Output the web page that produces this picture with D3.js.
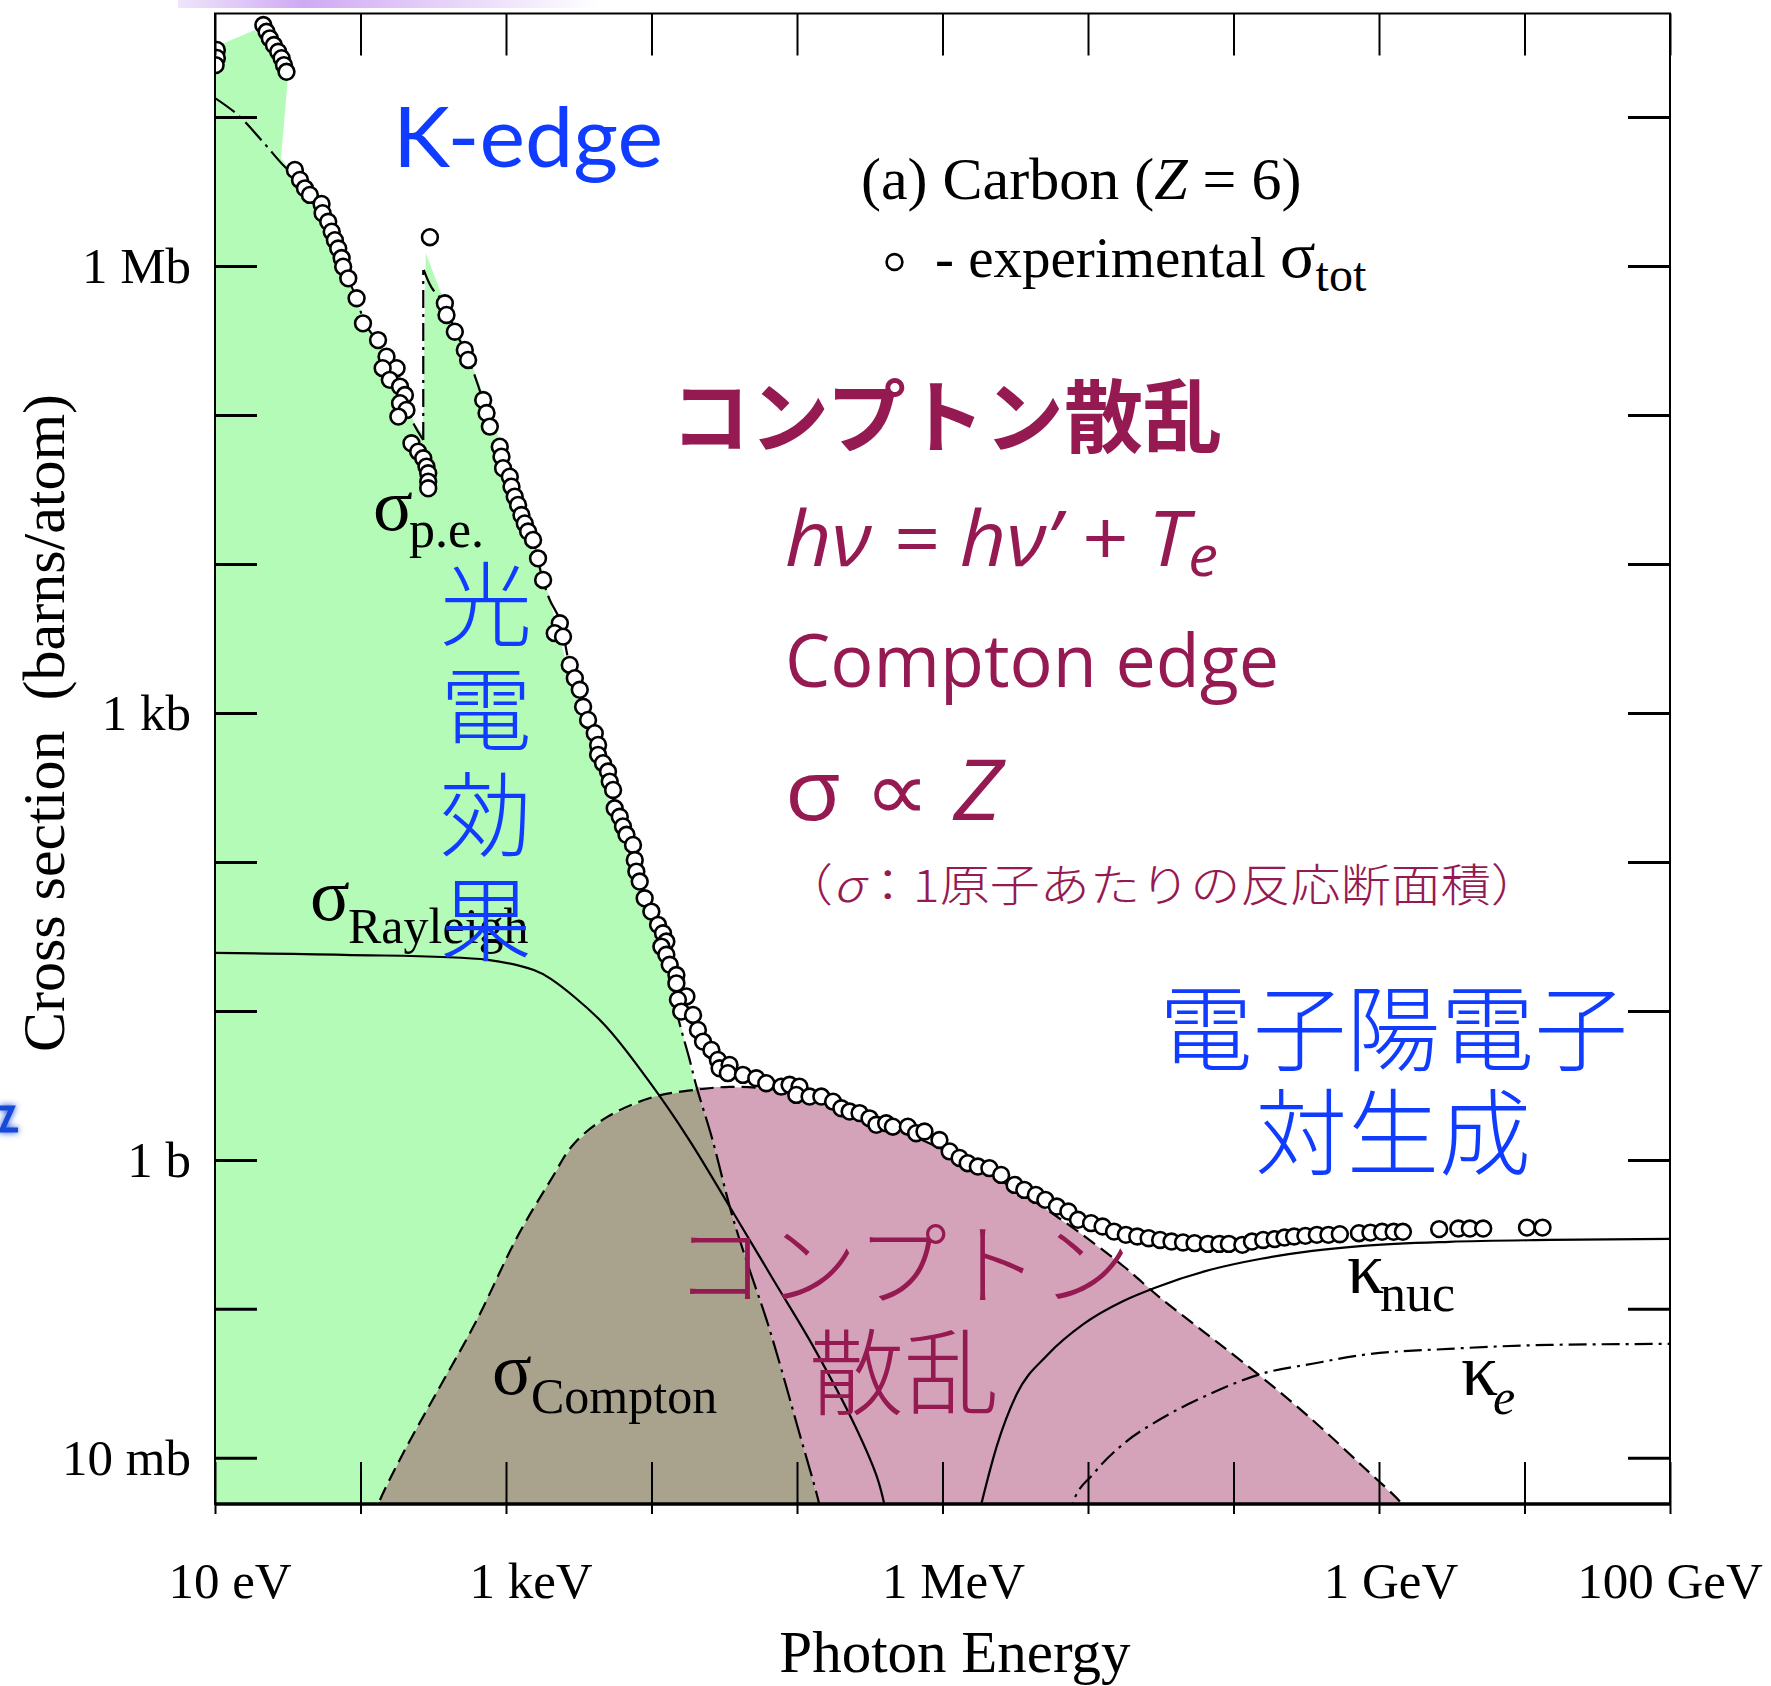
<!DOCTYPE html>
<html><head><meta charset="utf-8">
<script src="https://cdn.jsdelivr.net/npm/d3@7"></script>
<style>body{margin:0;background:#fff}svg{display:block}</style>
</head><body>
<svg id="c" width="1771" height="1686"></svg>
<script>
// ---------- data (energy in eV, cross section in barns/atom) ----------
const totalXS = [
[10.3,2.82e7],[10.3,2.49e7],[10.1,2.23e7],
[21.5,4.14e7],[22.6,3.73e7],[23.8,3.37e7],[25.4,3.04e7],[27.2,2.74e7],[28.7,2.48e7],[29.8,2.23e7],[31.0,2.01e7],
[35.4,4.41e6],[38.4,3.78e6],[41.5,3.32e6],[44.9,3.0e6],[54.0,2.61e6],[54.9,2.26e6],[60.0,1.98e6],[63.4,1.70e6],[66.7,1.49e6],[70.3,1.31e6],[74.2,1.13e6],[76.0,9.89e5],[82.4,8.26e5],[94.0,6.07e5],[104,4.12e5],[132,3.18e5],[151,2.46e5],[177,2.06e5],[142,2.06e5],[159,1.72e5],[187,1.55e5],[202,1.36e5],[187,1.20e5],[207,1.08e5],[182,9.75e4],[224,6.46e4],[249,5.67e4],[270,5.12e4],[284,4.50e4],[292,4.06e4],[292,3.57e4],[292,3.22e4],
[300,1.56e6],
[380,5.62e5],[390,4.69e5],[445,3.62e5],[521,2.73e5],[549,2.34e5],[697,1.26e5],[735,1.03e5],[774,8.35e4],[906,6.12e4],[931,5.25e4],[955,4.39e4],[1062,3.85e4],[1091,3.30e4],[1148,2.83e4],[1211,2.49e4],[1277,2.13e4],[1346,1.87e4],[1419,1.65e4],[1535,1.45e4],[1660,1.09e4],[1799,7.81e3],[2344,4.0e3],[2163,3.43e3],[2466,3.25e3],[2742,2.10e3],[2972,1.71e3],[3214,1.43e3],[3388,1.10e3],[3664,898],[4074,731],[4295,610],[4295,523],[4645,460],[5024,404],[5164,346],[5445,304],[5585,229],[6053,201],[6368,173],[6730,152],[7464,130],[7674,103],[7870,86.1],[8298,73.8],[8974,57.0],[9977,46.4],
[1.109e4,37.8],[1.20e4,33.2],[1.265e4,29.2],[1.169e4,27.0],[1.265e4,23.8],[1.334e4,20.4],[1.483e4,17.4],[1.483e4,15.3],[1.738e4,12.5],[1.52e4,11.9],[1.60e4,9.89],[1.93e4,9.40],[2.085e4,7.45],[2.26e4,6.22],[2.58e4,5.47],[2.86e4,4.69],[2.94e4,4.12],[3.44e4,4.34],[3.35e4,3.82],[4.25e4,3.72],[5.25e4,3.53],[6.15e4,3.27],[7.80e4,3.10],[8.89e4,3.19],[1.04e5,3.10],[9.89e4,2.73],[1.22e5,2.66],[1.47e5,2.66],[1.77e5,2.46],[2.02e5,2.22],[2.30e5,2.11],[2.69e5,2.06],[3.15e5,1.90],[3.51e5,1.72],[4.10e5,1.76],[4.56e5,1.67],[5.78e5,1.67],[6.59e5,1.51],[7.52e5,1.55],[9.53e5,1.36],[1.12e6,1.14],[1.31e6,1.03],[1.49e6,0.950],[1.75e6,0.902],[2.10e6,0.880],[2.53e6,0.793],
[3.13e6,0.679],[3.65e6,0.629],[4.38e6,0.582],[5.09e6,0.539],[6.11e6,0.486],[7.33e6,0.450],[8.53e6,0.396],[1.05e7,0.376],[1.26e7,0.357],[1.51e7,0.330],[1.82e7,0.314],[2.18e7,0.306],[2.61e7,0.298],[3.13e7,0.290],[3.75e7,0.283],[4.50e7,0.279],[5.40e7,0.276],[6.67e7,0.273],[8.00e7,0.273],[9.29e7,0.273],[1.15e8,0.269],[1.34e8,0.283],[1.60e8,0.290],[1.92e8,0.294],[2.24e8,0.301],[2.61e8,0.306],[3.12e8,0.309],[3.74e8,0.314],[4.49e8,0.314],[5.38e8,0.317],[7.28e8,0.322],[8.73e8,0.325],[1.05e9,0.329],[1.26e9,0.329],[1.46e9,0.329],[2.59e9,0.343],[3.51e9,0.346],[4.21e9,0.346],[5.20e9,0.346],[1.04e10,0.351],[1.33e10,0.351]
];
const peBelowK = [[10,1.34e7],[14.4,1.03e7],[21.4,6.79e6],[30.3,4.61e6],[38.4,3.78e6],[52.6,2.56e6],[66.7,1.49e6],[75.7,9.84e5],[94.4,6.01e5],[107,4.14e5],[136,2.95e5],[175,2.0e5],[202,1.32e5],[225,9.25e4],[270,6.8e4]];
const peKEdge = [[270,6.8e4],[270,9.4e5]];
const peAboveK = [[272,9.4e5],[309,7.12e5],[386,5.47e5],[445,3.66e5],[521,2.73e5],[693,1.26e5],[774,8.30e4],[906,6.10e4],[1062,3.84e4],[1205,2.49e4],[1528,1.45e4],[1791,7.81e3],[2000,5.73e3],[2344,4.21e3],[2742,2.10e3],[3214,1.43e3],[3648,898],[4266,565],[5000,402],[5585,241],[6653,152],[7798,91.2],[8974,57.3],[1.10e4,37.8],[1.27e4,23.8],[1.40e4,14.9],[1.51e4,9.40],[1.83e4,4.69],[2.04e4,3.09],[2.59e4,1.43],[3.61e4,0.414],[4.72e4,0.183],[6.18e4,0.0844],[7.83e4,0.0390],[1.01e5,0.0161],[1.42e5,0.00491],[1.48e5,0.00384]];
const rayleigh = [[10,24.5],[76.9,23.8],[750,22.0],[1552,18.8],[2032,16.4],[4624,8.30],[9572,3.39],[1.80e4,1.38],[3.72e4,0.428],[7.01e4,0.152],[1.32e5,0.0539],[2.49e5,0.0166],[3.58e5,0.00723],[4.19e5,0.00384]];
const compton = [[124,0.00384],[132,0.00484],[192,0.0103],[330,0.0269],[621,0.0818],[1186,0.300],[2032,0.734],[2924,1.28],[5000,1.95],[1.04e4,2.65],[1.98e4,2.95],[3.44e4,3.09],[6.48e4,3.00],[1.22e5,2.69],[2.30e5,2.17],[5.07e5,1.59],[1.12e6,1.11],[2.46e6,0.734],[4.63e6,0.499],[8.59e6,0.329],[1.78e7,0.191],[3.09e7,0.120],[6.93e7,0.0649],[1.55e8,0.0350],[3.48e8,0.0180],[7.78e8,0.00871],[1.44e9,0.00491],[1.61e9,0.00414]];
const kappaNuc = [[1.74e6,0.00384],[1.85e6,0.00491],[2.35e6,0.0118],[3.22e6,0.0265],[5.26e6,0.0490],[9.29e6,0.0790],[1.75e7,0.113],[2.86e7,0.138],[6.93e7,0.183],[1.55e8,0.217],[3.48e8,0.245],[7.78e8,0.265],[3.03e9,0.282],[1.48e10,0.290],[1e11,0.295]];
const kappaE = [[7.23e6,0.00384],[7.82e6,0.00491],[1.09e7,0.00782],[1.75e7,0.0124],[3.09e7,0.0180],[6.93e7,0.0269],[1.55e8,0.0366],[3.48e8,0.0428],[7.78e8,0.0491],[3.03e9,0.0539],[1.48e10,0.0573],[1e11,0.0582]];
const photoRegionTop = [[10,2.95e7],[18.8,3.84e7],[31.7,1.83e7],[28.4,5.31e6],[38.4,3.61e6],[52.6,2.49e6],[64.6,1.49e6],[78.2,8.71e5],[95.9,5.47e5],[116,3.72e5],[147,2.73e5],[181,1.85e5],[205,1.26e5],[237,8.57e4],[268,7.57e4],[281,1.22e6],[351,6.90e5],[482,3.44e5],[661,1.59e5],[906,6.79e4],[1245,2.49e4],[1706,1.06e4],[2000,5.73e3],[2455,2.65e3],[3758,659],[6053,157],[9727,40.8],[1.23e4,20.4],[1.56e4,8.71],[1.98e4,3.18]];
const xTickValues = [10,1e2,1e3,1e4,1e5,1e6,1e7,1e8,1e9,1e10,1e11];
const xLabelValues = [10,1e3,1e6,1e9,1e11];
const xLabelTexts = ["10 eV","1 keV","1 MeV","1 GeV","100 GeV"];
const yTickValues = [1e-2,1e-1,1,10,1e2,1e3,1e4,1e5,1e6,1e7];
const yLabelValues = [1e6,1e3,1,1e-2];
const yLabelTexts = ["1 Mb","1 kb","1 b","10 mb"];
const peCrossover = 2.04e4;

// ---------- layout ----------
const P = {left:215, right:1670, top:13.5, bottom:1504};
const xLabelShift = [15,25,11,12,0];
const serif = "'Liberation Serif','Times New Roman',serif";
const cjk = "'Noto Sans CJK JP','Noto Sans CJK SC',sans-serif";
const sans = "'Open Sans','Lato','DejaVu Sans',sans-serif";
const maroon = "#961a52", blue = "#0f3cff";

const svg = d3.select("#c");
const x = d3.scaleLog().domain([10,1e11]).range([P.left,P.right]);
const y = d3.scaleLog().domain([0.0049,4.95e7]).range([P.bottom,P.top]);

const defs = svg.append("defs");
defs.append("clipPath").attr("id","plot").append("rect")
  .attr("x",P.left).attr("y",P.top).attr("width",P.right-P.left).attr("height",P.bottom-P.top);
const grad = defs.append("linearGradient").attr("id","bar").attr("x1","0").attr("x2","1");
grad.append("stop").attr("offset","0").attr("stop-color","#efe5fb");
grad.append("stop").attr("offset","0.3").attr("stop-color","#cfa9f4");
grad.append("stop").attr("offset","1").attr("stop-color","#ffffff");
const glow = defs.append("filter").attr("id","glow").attr("x","-1").attr("y","-1").attr("width","3").attr("height","3");
glow.append("feGaussianBlur").attr("in","SourceGraphic").attr("stdDeviation","3").attr("result","b");
const fm = glow.append("feMerge"); fm.append("feMergeNode").attr("in","b"); fm.append("feMergeNode").attr("in","SourceGraphic");

// slide artifacts
svg.append("rect").attr("x",178).attr("y",0).attr("width",420).attr("height",8).attr("fill","url(#bar)");
svg.append("path").attr("d","M0,1108 L12,1108 L2,1130 L18,1130").attr("fill","none")
  .attr("stroke","#1848d8").attr("stroke-width",5).attr("filter","url(#glow)");

const g = svg.append("g").attr("clip-path","url(#plot)");
const poly = d3.line().x(d=>x(d[0])).y(d=>y(d[1]));
const smooth = d3.line().x(d=>x(d[0])).y(d=>y(d[1])).curve(d3.curveCatmullRom.alpha(0.5));
const mono = d3.line().x(d=>x(d[0])).y(d=>y(d[1])).curve(d3.curveMonotoneX);

// fills
const peTail = peAboveK.filter(d=>d[0]>=peCrossover);
const greenPoly = photoRegionTop.concat(peTail.filter(d=>d[0]>peCrossover)).concat([[10,0.00384]]);
const brownPoly = compton.filter(d=>d[0]<peCrossover).concat(peTail);
const pinkPoly = [peTail[0]].concat(compton.filter(d=>d[0]>peCrossover)).concat(peTail.slice(1).reverse());
g.append("path").attr("d",poly(greenPoly)+"Z").attr("fill","#b5fbb8");
g.append("path").attr("d",poly(brownPoly)+"Z").attr("fill","#a9a28d");
g.append("path").attr("d",poly(pinkPoly)+"Z").attr("fill","#d4a3b9");

// curves
const curveStyle = (p,dash)=>p.attr("fill","none").attr("stroke","#000").attr("stroke-width",2.2).attr("stroke-dasharray",dash);
curveStyle(g.append("path").attr("d",smooth(rayleigh)),null);
curveStyle(g.append("path").attr("d",smooth(compton)),"14,7");
curveStyle(g.append("path").attr("d",smooth(peBelowK)),"24,6,3,6");
curveStyle(g.append("path").attr("d",poly(peKEdge)),"18,6,3,6");
curveStyle(g.append("path").attr("d",smooth(peAboveK)),"24,6,3,6");
curveStyle(g.append("path").attr("d",mono(kappaNuc)),null);
curveStyle(g.append("path").attr("d",mono(kappaE)),"18,6,3,6");

// experimental points
g.selectAll("circle.tot").data(totalXS).join("circle").attr("class","tot")
  .attr("cx",d=>x(d[0])).attr("cy",d=>y(d[1])).attr("r",7.9)
  .attr("fill","#fff").attr("stroke","#000").attr("stroke-width",2.6);

// axes
const ax = svg.append("g");
const styleAxis = (sel,w)=>{ sel.select(".domain").remove(); sel.selectAll("line").attr("stroke","#000").attr("stroke-width",w); sel.selectAll("text").remove(); };
ax.append("g").attr("transform",`translate(${P.left},0)`).call(d3.axisLeft(y).tickValues(yTickValues).tickSize(-42)).call(s=>styleAxis(s,3));
ax.append("g").attr("transform",`translate(${P.right},0)`).call(d3.axisRight(y).tickValues(yTickValues).tickSize(-42)).call(s=>styleAxis(s,3));
ax.append("g").attr("transform",`translate(0,${P.top})`).call(d3.axisTop(x).tickValues(xTickValues).tickSize(-42)).call(s=>styleAxis(s,2));
ax.append("g").attr("transform",`translate(0,${P.bottom})`).call(d3.axisBottom(x).tickValues(xTickValues).tickSize(-42)).call(s=>styleAxis(s,2));
ax.append("g").attr("transform",`translate(0,${P.bottom})`).call(d3.axisBottom(x).tickValues(xTickValues).tickSize(10)).call(s=>styleAxis(s,2));
ax.append("rect").attr("x",P.left).attr("y",P.top).attr("width",P.right-P.left).attr("height",P.bottom-P.top)
  .attr("fill","none").attr("stroke","#000").attr("stroke-width",2);
ax.append("line").attr("x1",P.left).attr("x2",P.right).attr("y1",P.bottom).attr("y2",P.bottom).attr("stroke","#000").attr("stroke-width",3.5);

// tick labels
svg.append("g").selectAll("text").data(yLabelValues).join("text")
  .attr("x",191).attr("y",d=>y(d)+17).attr("text-anchor","end")
  .attr("font-family",serif).attr("font-size",51).text((d,i)=>yLabelTexts[i]);
svg.append("g").selectAll("text").data(xLabelValues).join("text")
  .attr("x",(d,i)=>x(d)+xLabelShift[i]).attr("y",1598).attr("text-anchor","middle")
  .attr("font-family",serif).attr("font-size",51).text((d,i)=>xLabelTexts[i]);
svg.append("text").attr("x",955).attr("y",1672).attr("text-anchor","middle")
  .attr("font-family",serif).attr("font-size",59).text("Photon Energy");
svg.append("text").attr("transform","translate(64,723) rotate(-90)").attr("text-anchor","middle")
  .attr("font-family",serif).attr("font-size",60).attr("xml:space","preserve").text("Cross section  (barns/atom)");

// Greek symbol with subscript, each placed at its own position
function greekLabel(gx,gy,sym,sx,sy,subt,subSize,italic){
  svg.append("text").attr("x",gx).attr("y",gy).attr("font-family",serif).attr("font-size",74).text(sym);
  const s = svg.append("text").attr("x",sx).attr("y",sy).attr("font-family",serif).attr("font-size",subSize).text(subt);
  if(italic) s.attr("font-style","italic");
}
// title & legend
const title = svg.append("text").attr("x",861).attr("y",199).attr("font-family",serif).attr("font-size",60);
title.append("tspan").text("(a) Carbon (");
title.append("tspan").attr("font-style","italic").text("Z");
title.append("tspan").text(" = 6)");
svg.append("circle").attr("cx",894.5).attr("cy",262).attr("r",7.9).attr("fill","#fff").attr("stroke","#000").attr("stroke-width",2.6);
const leg = svg.append("text").attr("x",935).attr("y",277).attr("font-family",serif).attr("font-size",57);
leg.append("tspan").text("- experimental ");
leg.append("tspan").attr("font-size",66).text("σ");
leg.append("tspan").attr("font-size",48).attr("dy",14).text("tot");

// curve labels
greekLabel(373,530,"σ",409,547,"p.e.",52,false);
greekLabel(310,920,"σ",348,943,"Rayleigh",50,false);
greekLabel(492,1394,"σ",531,1413,"Compton",50,false);
greekLabel(1347,1293,"κ",1380,1311,"nuc",52,false);
greekLabel(1461,1395,"κ",1493,1414,"e",50,true);

// K-edge
svg.append("text").attr("x",393).attr("y",167).attr("font-family","'Lato','Open Sans',sans-serif")
  .attr("font-size",84).attr("fill",blue).attr("textLength",270).attr("lengthAdjust","spacingAndGlyphs").text("K-edge");

// Compton annotation block
svg.append("text").attr("x",671).attr("y",446).attr("font-family",cjk).attr("font-weight",700)
  .attr("font-size",80).attr("fill",maroon).attr("textLength",551).attr("lengthAdjust","spacingAndGlyphs").text("コンプトン散乱");
const eq = svg.append("text").attr("x",785).attr("y",566).attr("font-family",sans).attr("font-style","italic")
  .attr("font-size",76).attr("fill",maroon).attr("textLength",433).attr("lengthAdjust","spacingAndGlyphs");
eq.append("tspan").text("hν = hν’ + T");
eq.append("tspan").attr("font-size",56).attr("dy",10).text("e");
svg.append("text").attr("x",785).attr("y",687).attr("font-family",sans).attr("font-size",74).attr("fill",maroon)
  .attr("textLength",494).attr("lengthAdjust","spacingAndGlyphs").text("Compton edge");
const prop = svg.append("text").attr("x",785).attr("y",820).attr("font-family",sans).attr("font-size",84).attr("fill",maroon)
  .attr("textLength",217).attr("lengthAdjust","spacingAndGlyphs");
prop.append("tspan").text("σ ∝ ");
prop.append("tspan").attr("font-style","italic").text("Z");
const note = svg.append("text").attr("x",783).attr("y",902).attr("font-family",cjk).attr("font-weight",300)
  .attr("font-size",45).attr("fill",maroon).attr("textLength",758).attr("lengthAdjust","spacingAndGlyphs");
note.append("tspan").text("（");
note.append("tspan").attr("font-style","italic").text("σ");
note.append("tspan").text("：1原子あたりの反応断面積）");

// big region labels
svg.append("text").attr("x",675).attr("y",1298).attr("font-family",cjk).attr("font-weight",300)
  .attr("font-size",90).attr("fill",maroon).attr("textLength",456).attr("lengthAdjust","spacing").text("コンプトン");
svg.append("text").attr("x",809).attr("y",1408).attr("font-family",cjk).attr("font-weight",300)
  .attr("font-size",94).attr("fill",maroon).attr("textLength",190).attr("lengthAdjust","spacingAndGlyphs").text("散乱");
const peChars = ["光","電","効","果"];
svg.append("g").selectAll("text").data(peChars).join("text")
  .attr("x",486).attr("y",(d,i)=>639+i*105).attr("text-anchor","middle")
  .attr("font-family",cjk).attr("font-weight",300).attr("font-size",92).attr("fill",blue).text(d=>d);
svg.append("text").attr("x",1159).attr("y",1064).attr("font-family",cjk).attr("font-weight",300)
  .attr("font-size",94).attr("fill",blue).attr("textLength",469).attr("lengthAdjust","spacingAndGlyphs").text("電子陽電子");
svg.append("text").attr("x",1255).attr("y",1168).attr("font-family",cjk).attr("font-weight",300)
  .attr("font-size",94).attr("fill",blue).attr("textLength",276).attr("lengthAdjust","spacingAndGlyphs").text("対生成");
</script>
</body></html>
